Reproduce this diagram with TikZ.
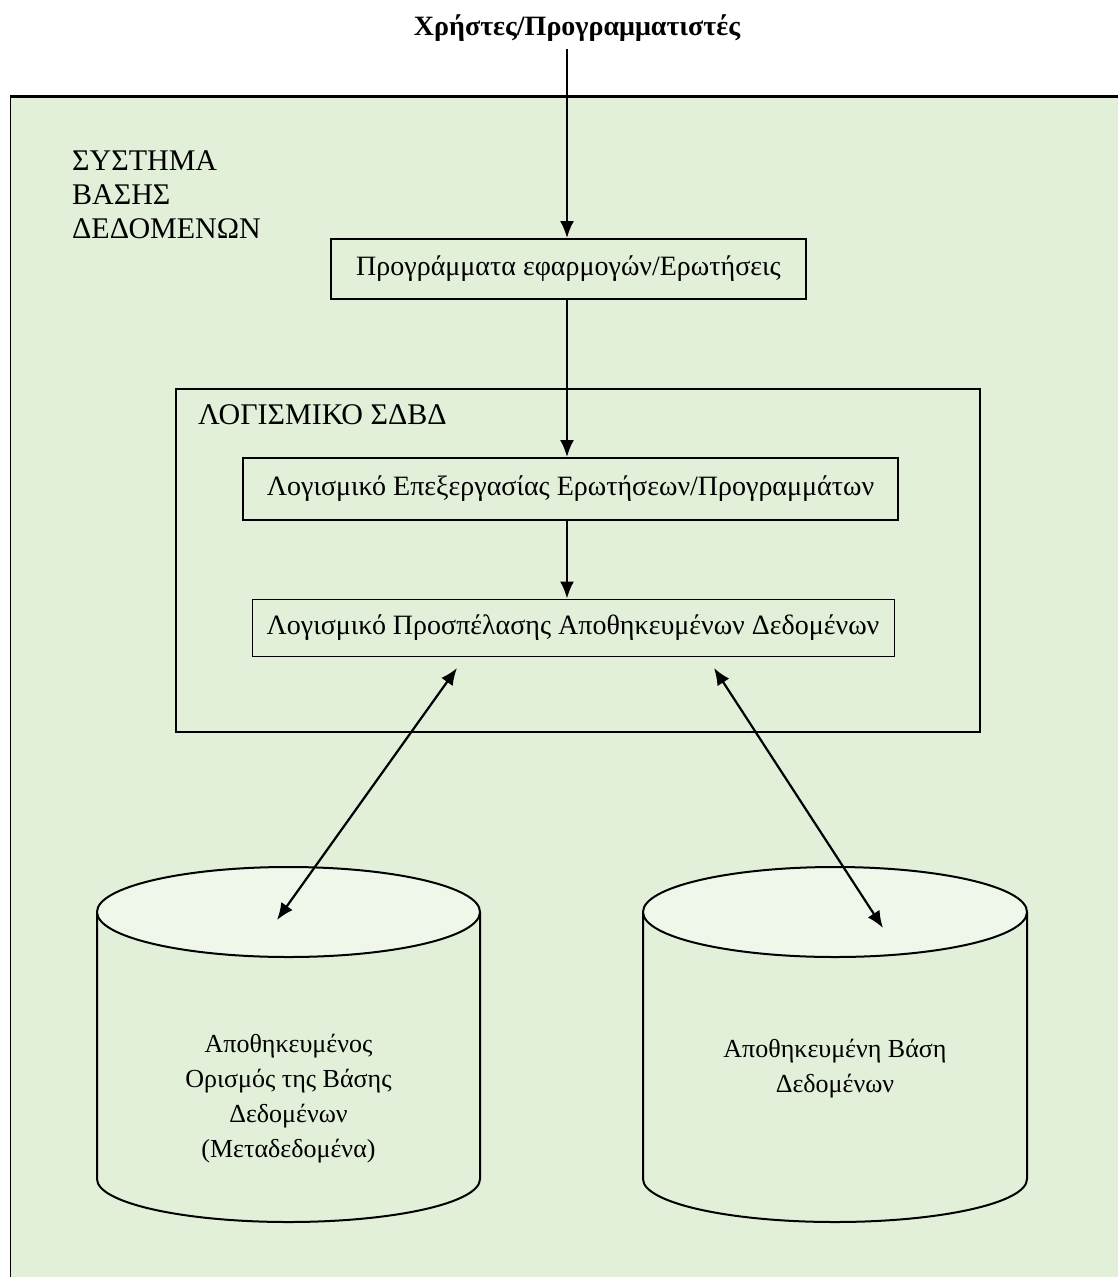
\documentclass[tikz,border=0pt]{standalone}
\usepackage{fontspec}
\setmainfont{Liberation Serif}
\usetikzlibrary{positioning,arrows.meta}
\definecolor{sysgreen}{HTML}{E2EFD9}
\definecolor{capgreen}{HTML}{EFF6EA}
\tikzset{
  swbox/.style={rectangle, draw=black, line width=2pt, inner sep=0pt},
  arr/.style={-{Latex[length=17pt,width=14pt]}, line width=2.2pt},
  dblarr/.style={{Latex[length=17pt,width=14pt]}-{Latex[length=17pt,width=14pt]}, line width=2.2pt},
  capslbl/.style={font=\fontsize{30}{34}\selectfont, inner sep=0pt},
  cyllbl/.style={font=\fontsize{26}{35}\selectfont, align=center}
}

\begin{document}
\begin{tikzpicture}[x=1pt, y=-1pt, font=\fontsize{28}{35}\selectfont]
\useasboundingbox (0,0) rectangle (1118,1277);

%%% SYSTEM frame
\node [fill=sysgreen, minimum width=1108pt, minimum height=1181pt, inner sep=0pt, anchor=north west] (system) at (10,96) {};
\draw [line width=3pt] (system.north west) -- (system.north east);
\draw [line width=1pt] (system.north west) -- (system.south west);
\node [capslbl, anchor=north west, align=left] (system-lbl) at (72,150) {ΣΥΣΤΗΜΑ\\ ΒΑΣΗΣ\\ ΔΕΔΟΜΕΝΩΝ};

%%% USERS
\node [font=\fontsize{28}{30}\selectfont\bfseries] (users) at (577,28) {Χρήστες/Προγραμματιστές};
\coordinate (users-out) at (567,49);

%%% APPLICATIONS
\node [swbox, minimum width=475pt, minimum height=60pt] (apps) at (568.5,269) {Προγράμματα εφαρμογών/Ερωτήσεις};

%%% DBMS SOFTWARE
\node [swbox, minimum width=804pt, minimum height=343pt] (dbms) at (578,560.5) {};
\node [capslbl, anchor=west] (dbms-lbl) at (198,415) {ΛΟΓΙΣΜΙΚΟ ΣΔΒΔ};
\node [swbox, minimum width=655pt, minimum height=62pt] (qproc) at (570.5,489) {Λογισμικό Επεξεργασίας Ερωτήσεων/Προγραμμάτων};
\node [swbox, line width=1pt, minimum width=642pt, minimum height=57pt] (access) at (573,627.5) {Λογισμικό Προσπέλασης Αποθηκευμένων Δεδομένων};

%%% STORED METADATA
\filldraw [fill=sysgreen, line width=2pt] (97,912) -- (97,1179) arc [start angle=180, end angle=360, x radius=191.5pt, y radius=43pt] -- (480,912);
\filldraw [fill=capgreen, line width=2pt] (288.5,912) ellipse [x radius=191.5pt, y radius=45pt];
\node [cyllbl] (meta) at (288.5,1099) {Αποθηκευμένος\\ Ορισμός της Βάσης\\ Δεδομένων\\ (Μεταδεδομένα)};

%%% STORED DATABASE
\filldraw [fill=sysgreen, line width=2pt] (643,912) -- (643,1179) arc [start angle=180, end angle=360, x radius=192pt, y radius=43pt] -- (1027,912);
\filldraw [fill=capgreen, line width=2pt] (835,912) ellipse [x radius=192pt, y radius=45pt];
\node [cyllbl] (stored) at (835,1069) {Αποθηκευμένη Βάση\\ Δεδομένων};

%%% connections, arrows
\coordinate (access-l) at (457,668);
\coordinate (access-r) at (714,668);
\coordinate (meta-top) at (277,920);
\coordinate (stored-top) at (883,928);

\draw [arr] (users-out) -- (users-out |- apps.north);
\draw [arr] (users-out |- apps.south) -- (users-out |- qproc.north);
\draw [arr] (users-out |- qproc.south) -- (users-out |- access.north);
\draw [dblarr] (access-l) -- (meta-top);
\draw [dblarr] (access-r) -- (stored-top);

\end{tikzpicture}
\end{document}
